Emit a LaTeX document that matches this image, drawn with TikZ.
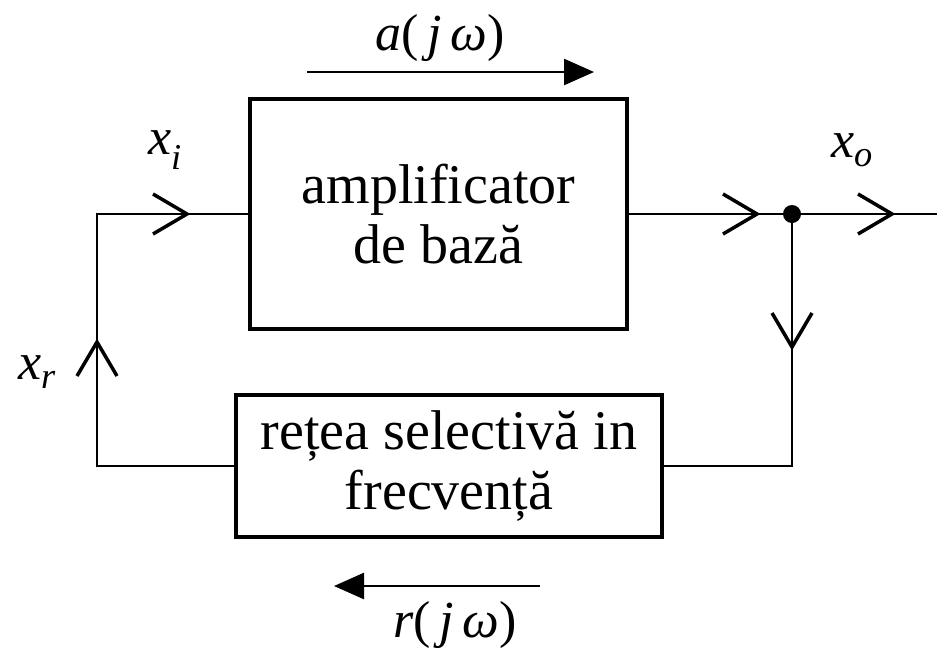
\documentclass[tikz,border=0pt]{standalone}
\usepackage{fontspec}
\setmainfont{Liberation Serif}
\usetikzlibrary{arrows.meta}
\newcommand\symb[2]{\textit{#1}\textsubscript{\textit{#2}}}
\newcommand\chevron[2]{\draw[chevline, shift={#1}, rotate=#2] (-34,-20) -- (0,0) -- (-34,20);}
\tikzset{
  blockbox/.style={draw, line width=4.5pt, inner sep=0pt, align=center,
    font=\fontsize{56}{60}\selectfont},
  wire/.style={line width=2.2pt},
  chevline/.style={line width=3.5pt},
  lbl/.style={inner sep=0pt, font=\fontsize{52}{60}\selectfont},
  flow/.style={line width=2.5pt, -{Triangle[length=30pt,width=26pt]}},
}
\begin{document}
\begin{tikzpicture}[x=1pt,y=-1pt]
\useasboundingbox (0,0) rectangle (937,662);
\node[blockbox, minimum width=377pt, minimum height=230pt] (amp) at (438.5,214)
  {amplificator\\de bază};
\node[blockbox, minimum width=426pt, minimum height=142pt] (net) at (449,466)
  {rețea selectivă in\\frecvență};
\coordinate (tl) at (97,214);
\coordinate (bl) at (97,466);
\node[circle, fill, inner sep=0pt, minimum size=18pt] (dot) at (792,214) {};
\coordinate (br) at (792,466);
\coordinate (out) at (937,214);
% wires
\draw[wire] (net.west) -- (bl) -- (tl) -- (amp.west);
\draw[wire] (amp.east) -- (dot) -- (out);
\draw[wire] (dot) -- (br) -- (net.east);
% chevrons
\chevron{(187,214)}{0}
\chevron{(757,214)}{0}
\chevron{(892,214)}{0}
\chevron{(792,347)}{-90}
\chevron{(97,342)}{90}
% labels
\node[lbl] (xi) at (165,150) {\symb{x}{i}};
\node[lbl] (xo) at (852,150) {\symb{x}{o}};
\node[lbl] (xr) at (37,372) {\symb{x}{r}};
\node[lbl] (aj) at (440,38) {\textit{a}(\,\textit{j\,ω})};
\node[lbl] (rj) at (455,625) {\textit{r}(\,\textit{j\,ω})};
\coordinate (a1) at (307,72);
\coordinate (a2) at (594,72);
\coordinate (r1) at (540,586);
\coordinate (r2) at (334,586);
\draw[flow] (a1) -- (a2);
\draw[flow] (r1) -- (r2);
\end{tikzpicture}
\end{document}
